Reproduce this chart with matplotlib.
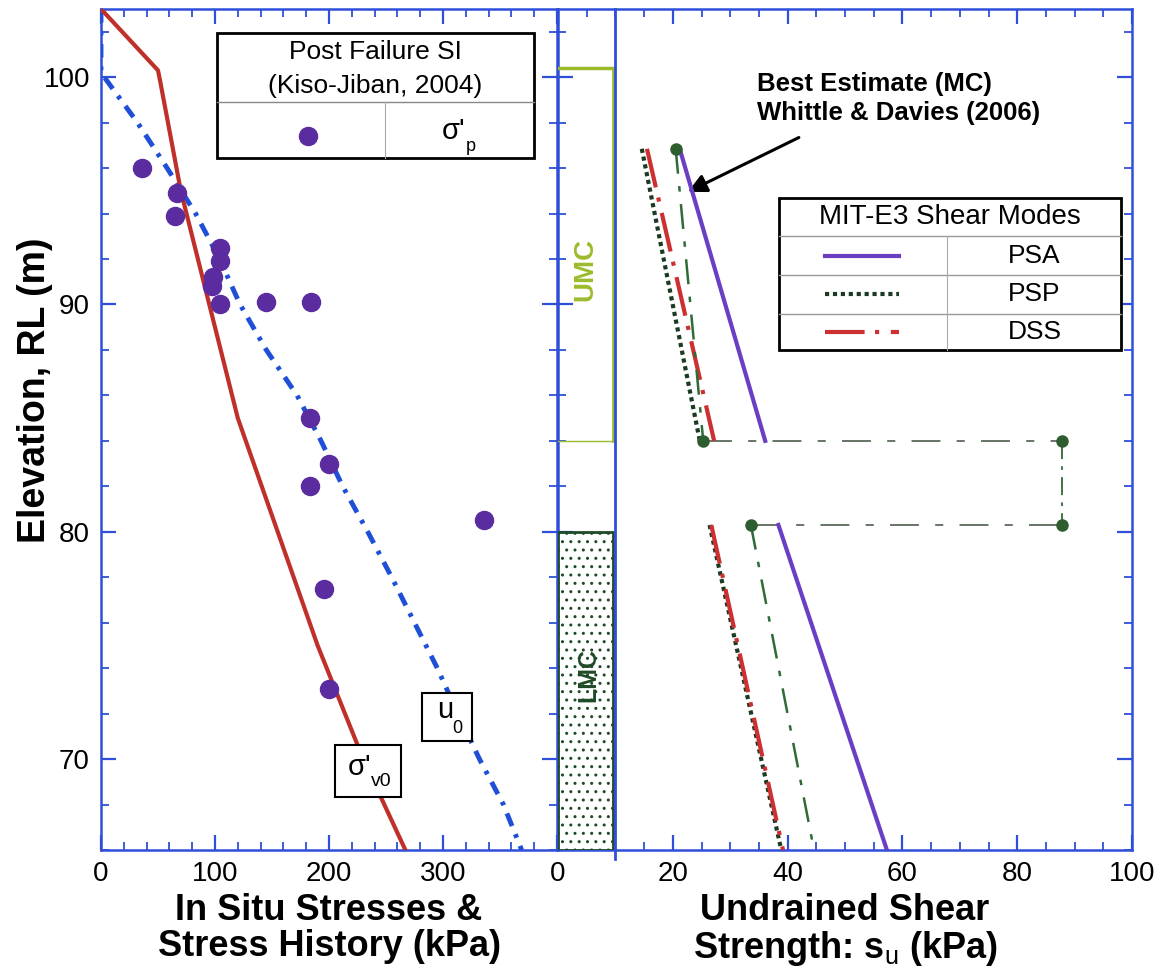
import matplotlib
matplotlib.use("Agg")
import matplotlib.pyplot as plt
from matplotlib.patches import Rectangle
from matplotlib.ticker import MultipleLocator, FixedLocator

plt.rcParams['font.family'] = ['Liberation Sans', 'DejaVu Sans']
plt.rcParams['mathtext.fontset'] = 'custom'
plt.rcParams['mathtext.rm'] = 'Liberation Sans'
plt.rcParams['mathtext.it'] = 'Liberation Sans:italic'
plt.rcParams['mathtext.bf'] = 'Liberation Sans:bold'
plt.rcParams['hatch.linewidth'] = 1.0

# ---------------- data ----------------
# Effective vertical stress profile (kPa vs elevation m)
sv0_kpa = [0, 50, 52, 70, 95, 120, 155, 190, 230, 267]
sv0_elev = [103, 100.3, 99.8, 95, 90, 85, 80, 75, 70, 66]

# Hydrostatic pore pressure profile
u0_kpa = [0, 0, 32, 58, 83, 104, 122, 145, 172, 193, 212, 234, 255, 275, 295, 313, 332, 353, 369]
u0_elev = [103, 100.2, 98, 96, 94, 92, 90, 88, 86, 84, 82, 80, 78, 76, 74, 72, 70, 68, 66]

# Preconsolidation pressure from post-failure site investigation
sp_kpa = [36, 67, 65, 104, 104, 98, 97, 104, 145, 184, 183, 200, 183, 336, 196, 200]
sp_elev = [96.0, 94.9, 93.9, 92.5, 91.9, 91.2, 90.8, 90.0, 90.1, 90.1, 85.0, 83.0, 82.0, 80.5, 77.5, 73.1]

# MIT-E3 undrained shear strength profiles: upper (UMC) and lower (LMC) clays
upper_elev = [96.85, 84.0]
lower_elev = [80.3, 66.0]
psa_upper = [21.2, 36.1]
psp_upper = [14.6, 24.7]
dss_upper = [15.5, 27.2]
psa_lower = [38.4, 57.3]
psp_lower = [26.4, 38.9]
dss_lower = [26.7, 39.2]

# Best estimate (MC) profile
mc_upper_su = [20.5, 25.3]
mc_lower_su = [33.6, 44.6]
mc_link_su = 87.75

# Layer boundaries (elevation, m)
umc_top, umc_bottom = 100.4, 84.0
lmc_top, lmc_bottom = 80.0, 66.0

# ---------------- styling ----------------
BLUE = '#2f4fd8'
DOT = '#5a2ca0'
RED = '#c0302a'
ULINE = '#1f4fd6'
PSA_C = '#6b3fc4'
PSP_C = '#1b3a22'
DSS_C = '#cc3030'
MC_C = '#2e6b36'
LINK_C = '#5a6a5a'
UMC_C = '#9cbb2c'
LMC_C = '#1e4a28'

fig = plt.figure(figsize=(11.61, 9.76), dpi=100)
axL = fig.add_axes([101 / 1161, 126 / 976, 456 / 1161, 841 / 976])
axR = fig.add_axes([558 / 1161, 126 / 976, 574 / 1161, 841 / 976])

for ax in (axL, axR):
    ax.set_ylim(66, 103)
    for sp in ax.spines.values():
        sp.set_color(BLUE)
        sp.set_linewidth(1.8)
    ax.yaxis.set_major_locator(MultipleLocator(10))
    ax.yaxis.set_minor_locator(MultipleLocator(2))
    ax.tick_params(which='both', direction='in', top=True, right=True,
                   color=BLUE, labelcolor='black', labelsize=20, pad=8)
    ax.tick_params(which='major', length=11, width=1.6)
    ax.tick_params(which='minor', length=6, width=1.3)

# ---------------- left panel ----------------
axL.set_xlim(0, 400)
axL.xaxis.set_major_locator(FixedLocator([0, 100, 200, 300, 400]))
axL.set_xticklabels(['0', '100', '200', '300', ''])
axL.xaxis.set_minor_locator(MultipleLocator(20))

axL.plot(u0_kpa, u0_elev, color=ULINE, lw=3.5, dashes=(2.8, 1.8, 0.8, 1.8), zorder=3)
axL.plot(sv0_kpa, sv0_elev, color=RED, lw=3, zorder=4)
axL.plot(sp_kpa, sp_elev, 'o', ms=13, color=DOT, mec=DOT, zorder=5)

fig.text(35 / 1161, 1 - 390 / 976, 'Elevation, RL (m)', rotation=90, ha='center', va='center',
         fontsize=27, fontweight='bold')
axL.set_xlabel('In Situ Stresses &\nStress History (kPa)', fontsize=26,
               fontweight='bold', linespacing=1.05, labelpad=4)

# legend table for the SI data
axL.add_patch(Rectangle((101.8, 96.45), 277.7, 5.49, fill=False, ec='black', lw=2, zorder=6))
axL.plot([101.8, 379.5], [98.9, 98.9], color='#888888', lw=1, zorder=6)
axL.plot([249.4, 249.4], [96.45, 98.9], color='#aaaaaa', lw=0.8, zorder=6)
axL.text(240.6, 101.1, 'Post Failure SI', ha='center', va='center', fontsize=19)
axL.text(240.6, 99.6, '(Kiso-Jiban, 2004)', ha='center', va='center', fontsize=19)
axL.plot([182], [97.43], 'o', ms=13, color=DOT, mec=DOT, zorder=7)
axL.text(309, 97.65, "σ'", ha='center', va='center', fontsize=21)
axL.text(324, 96.95, 'p', ha='center', va='center', fontsize=13)

# profile labels
axL.add_patch(Rectangle((205.4, 68.35), 58.1, 2.25, fc='white', ec='black', lw=1.5, zorder=6))
axL.text(226.6, 69.64, "σ'", ha='center', va='center', fontsize=21, zorder=7)
axL.text(245.5, 69.0, 'v0', ha='center', va='center', fontsize=14, zorder=7)
axL.add_patch(Rectangle((282, 70.8), 43, 2.1, fc='white', ec='black', lw=1.5, zorder=6))
axL.text(301.6, 72.15, 'u', ha='center', va='center', fontsize=21, zorder=7)
axL.text(312.4, 71.35, '0', ha='center', va='center', fontsize=13, zorder=7)

# ---------------- right panel ----------------
axR.set_xlim(0, 100)
axR.xaxis.set_major_locator(MultipleLocator(20))
axR.xaxis.set_minor_locator(MultipleLocator(5))
axR.tick_params(axis='y', which='both', labelleft=False)

# soil column
axR.plot([10, 10], [65.6, 103], color=BLUE, lw=2, clip_on=False, zorder=5)
axR.plot([0, 9.6], [umc_top, umc_top], color=UMC_C, lw=2.5, zorder=4)
axR.plot([9.6, 9.6], [umc_top, umc_bottom], color=UMC_C, lw=2, zorder=4)
axR.plot([0, 9.6], [umc_bottom, umc_bottom], color=UMC_C, lw=1, zorder=4)
axR.text(4.7, 91.55, 'UMC', rotation=90, ha='center', va='center',
         fontsize=20, fontweight='bold', color=UMC_C)
axR.add_patch(Rectangle((0, lmc_bottom), 9.6, lmc_top - lmc_bottom, fc='white',
                        ec=LMC_C, hatch='..', lw=2, zorder=3))
axR.text(5.3, 73.7, 'LMC', rotation=90, ha='center', va='center',
         fontsize=18, fontweight='bold', color=LMC_C, zorder=4)

# su profiles
for elev, psa, psp, dss in ((upper_elev, psa_upper, psp_upper, dss_upper),
                            (lower_elev, psa_lower, psp_lower, dss_lower)):
    axR.plot(psp, elev, color=PSP_C, lw=3, dashes=(1, 0.9), zorder=3)
    axR.plot(dss, elev, color=DSS_C, lw=3, dashes=(9.5, 2.5, 1, 2.8), zorder=4)
    axR.plot(psa, elev, color=PSA_C, lw=3, zorder=4)

# best estimate profile and link between layers
mc_dash = (10, 5, 2.2, 5)
axR.plot(mc_upper_su, upper_elev, color=MC_C, lw=1.8, dashes=mc_dash, zorder=5)
axR.plot(mc_lower_su, lower_elev, color=MC_C, lw=1.8, dashes=mc_dash, zorder=5)
link_dash = (16, 9, 4.5, 9)
axR.plot([mc_upper_su[1], mc_link_su], [upper_elev[1], upper_elev[1]],
         color=LINK_C, lw=1.3, dashes=link_dash, zorder=2)
axR.plot([mc_lower_su[0], mc_link_su], [lower_elev[0], lower_elev[0]],
         color=LINK_C, lw=1.3, dashes=link_dash, zorder=2)
axR.plot([mc_link_su, mc_link_su], [upper_elev[1], lower_elev[0]],
         color=MC_C, lw=1.3, dashes=(10, 4, 2, 4), zorder=2)
axR.plot([mc_upper_su[0], mc_upper_su[1], mc_link_su, mc_link_su, mc_lower_su[0]],
         [upper_elev[0], upper_elev[1], upper_elev[1], lower_elev[0], lower_elev[0]],
         'o', ms=8, color='#2e5e30', zorder=6)

axR.annotate('', xy=(22.2, 94.9), xytext=(42.4, 97.4),
             arrowprops=dict(arrowstyle='-|>', lw=2.2, color='black', mutation_scale=28))
axR.text(34.7, 99.05, 'Best Estimate (MC)\nWhittle & Davies (2006)', ha='left', va='center',
         fontsize=18.5, fontweight='bold', linespacing=1.25)

# legend table for the shear modes
x0, x1, xm = 38.5, 98.1, 67.8
axR.add_patch(Rectangle((x0, 88.0), x1 - x0, 6.7, fc='white', ec='black', lw=2, zorder=6))
for yy in (93.0, 91.3, 89.6):
    axR.plot([x0, x1], [yy, yy], color='#999999', lw=1, zorder=7)
axR.plot([xm, xm], [88.0, 93.0], color='#aaaaaa', lw=0.8, zorder=7)
axR.text((x0 + x1) / 2, 93.85, 'MIT-E3 Shear Modes', ha='center', va='center', fontsize=20, zorder=8)
rows = [(92.15, 'PSA', dict(color=PSA_C, lw=3)),
        (90.45, 'PSP', dict(color=PSP_C, lw=3, dashes=(1, 0.9))),
        (88.8, 'DSS', dict(color=DSS_C, lw=3, dashes=(9.5, 2.5, 1, 2.8)))]
for yy, name, style in rows:
    axR.plot([46.5, 59.4], [yy, yy], zorder=8, **style)
    axR.text(83.0, yy, name, ha='center', va='center', fontsize=19, zorder=8)

axR.set_xlabel('Undrained Shear\nStrength: s$_{\\mathrm{u}}$ (kPa)', fontsize=26,
               fontweight='bold', linespacing=1.05, labelpad=4)

fig.savefig('out.png', dpi=100)
